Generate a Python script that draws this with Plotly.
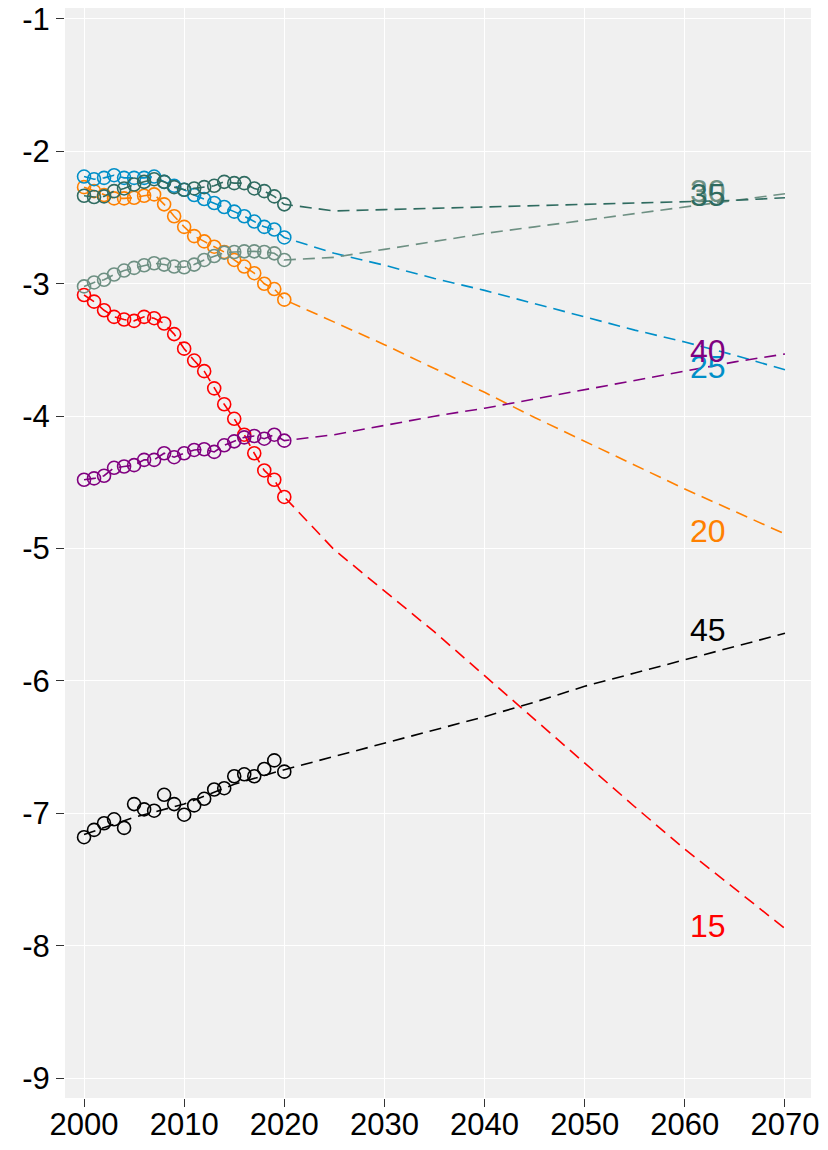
import plotly.graph_objects as go

obs_years = list(range(2000, 2021))
proj_years = [2025, 2030, 2035, 2040, 2045, 2050, 2055, 2060, 2065, 2070]
fit45_years = [2000, 2005, 2010, 2015, 2020]

series_names = ["15", "20", "25", "30", "35", "40", "45"]
colors = ["#FF0000", "#FF8000", "#008FC8", "#6E9083", "#2F6B60", "#800080", "#000000"]

obs_15 = [-3.085, -3.135, -3.20, -3.25, -3.27, -3.28, -3.25, -3.26, -3.30, -3.38, -3.49,
          -3.58, -3.66, -3.79, -3.91, -4.02, -4.14, -4.28, -4.41, -4.48, -4.61]
obs_20 = [-2.27, -2.30, -2.33, -2.355, -2.355, -2.35, -2.335, -2.325, -2.40, -2.49, -2.57,
          -2.64, -2.68, -2.72, -2.76, -2.82, -2.87, -2.92, -3.00, -3.04, -3.12]
obs_25 = [-2.19, -2.21, -2.20, -2.18, -2.20, -2.20, -2.20, -2.19, -2.23, -2.26, -2.29,
          -2.33, -2.36, -2.39, -2.42, -2.455, -2.49, -2.53, -2.57, -2.59, -2.65]
obs_30 = [-3.02, -2.99, -2.97, -2.93, -2.90, -2.88, -2.86, -2.845, -2.855, -2.87, -2.875,
          -2.855, -2.82, -2.79, -2.765, -2.76, -2.755, -2.755, -2.76, -2.77, -2.82]
obs_35 = [-2.335, -2.345, -2.34, -2.30, -2.28, -2.25, -2.23, -2.21, -2.23, -2.27, -2.29,
          -2.28, -2.27, -2.26, -2.23, -2.24, -2.24, -2.28, -2.30, -2.34, -2.40]
obs_40 = [-4.48, -4.47, -4.45, -4.39, -4.38, -4.37, -4.33, -4.33, -4.28, -4.31, -4.28,
          -4.255, -4.25, -4.27, -4.22, -4.19, -4.16, -4.15, -4.17, -4.14, -4.185]
obs_45 = [-7.18, -7.125, -7.075, -7.045, -7.11, -6.93, -6.97, -6.98, -6.86, -6.93, -7.01,
          -6.94, -6.89, -6.82, -6.81, -6.72, -6.705, -6.72, -6.665, -6.60, -6.685]
fit_45 = [-7.16, -7.03, -6.93, -6.78, -6.67]

proj_15 = [-5.01, -5.32, -5.63, -5.96, -6.29, -6.62, -6.95, -7.27, -7.57, -7.87]
proj_20 = [-3.29, -3.46, -3.64, -3.82, -4.01, -4.19, -4.37, -4.55, -4.72, -4.89]
proj_25 = [-2.77, -2.86, -2.96, -3.05, -3.15, -3.25, -3.35, -3.44, -3.54, -3.65]
proj_30 = [-2.80, -2.74, -2.68, -2.62, -2.57, -2.52, -2.47, -2.42, -2.37, -2.32]
proj_35 = [-2.45, -2.44, -2.43, -2.42, -2.41, -2.40, -2.39, -2.38, -2.37, -2.35]
proj_40 = [-4.14, -4.07, -4.00, -3.94, -3.87, -3.80, -3.73, -3.66, -3.59, -3.53]
proj_45 = [-6.57, -6.47, -6.37, -6.27, -6.16, -6.04, -5.94, -5.84, -5.74, -5.64]

label_x = 2062.3

obs_all = [obs_15, obs_20, obs_25, obs_30, obs_35, obs_40, obs_45]
proj_all = [proj_15, proj_20, proj_25, proj_30, proj_35, proj_40, proj_45]

FONT = "Liberation Sans, Arial, sans-serif"
fig = go.Figure()

for name, col, obs, proj in zip(series_names, colors, obs_all, proj_all):
    if name == "45":
        lx = fit45_years + proj_years
        ly = fit_45 + proj
    else:
        lx = obs_years + proj_years
        ly = obs + proj
    fig.add_trace(go.Scatter(x=lx, y=ly, mode="lines",
                             line=dict(color=col, width=1.6, dash="12px,7px"),
                             showlegend=False, hoverinfo="skip"))
    fig.add_trace(go.Scatter(x=obs_years, y=obs, mode="markers",
                             marker=dict(symbol="circle-open", size=13, color=col,
                                         line=dict(color=col, width=1.6)),
                             showlegend=False))

for name, col, proj in zip(series_names, colors, proj_all):
    fig.add_trace(go.Scatter(x=[label_x], y=[proj[-1]], mode="text", text=[name],
                             textposition="middle center",
                             textfont=dict(family=FONT, size=32, color=col),
                             showlegend=False, hoverinfo="skip"))

fig.update_layout(
    width=812, height=1134,
    margin=dict(l=57, r=9, t=0, b=44, autoexpand=False),
    paper_bgcolor="white", plot_bgcolor="#F0F0F0",
    font=dict(family=FONT, size=31, color="black"),
)
fig.update_xaxes(range=[1998.10, 2072.6], tickmode="array",
                 tickvals=[2000, 2010, 2020, 2030, 2040, 2050, 2060, 2070],
                 showgrid=True, gridcolor="white", gridwidth=1,
                 ticks="outside", ticklen=8, tickwidth=1.3, tickcolor="#333333",
                 zeroline=False, showline=False, automargin=False,
                 ticklabeloverflow="allow", ticklabelstandoff=-9,
                 tickfont=dict(family=FONT, size=31, color="black"))
fig.update_yaxes(range=[-9.15, -0.917], tickmode="array",
                 tickvals=[-9, -8, -7, -6, -5, -4, -3, -2, -1],
                 ticktext=["-9", "-8", "-7", "-6", "-5", "-4", "-3", "-2", "-1"],
                 showgrid=True, gridcolor="white", gridwidth=1,
                 ticks="outside", ticklen=8, tickwidth=1.3, tickcolor="#333333",
                 zeroline=False, showline=False, automargin=False,
                 ticklabeloverflow="allow",
                 tickfont=dict(family=FONT, size=31, color="black"))

fig.write_html("out.html")
